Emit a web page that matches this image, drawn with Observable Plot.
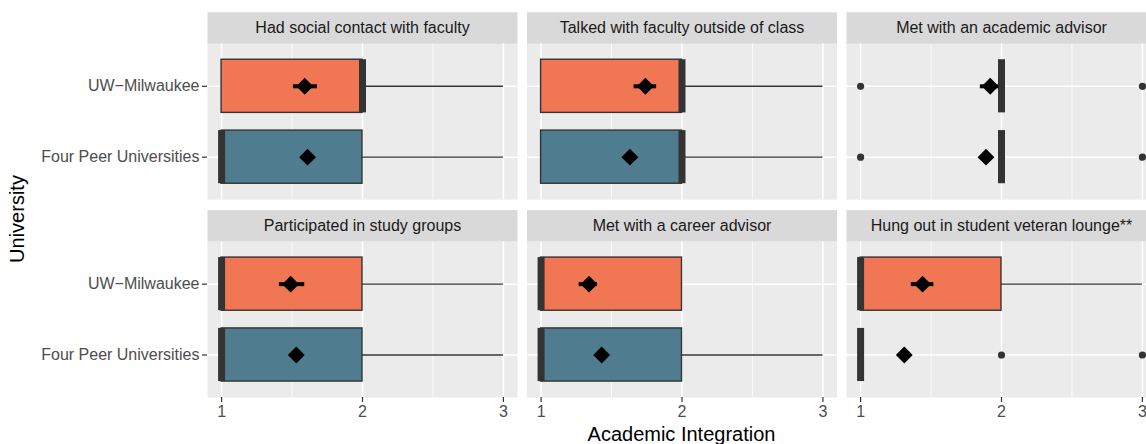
<!DOCTYPE html>
<html><head><meta charset="utf-8">
<script src="https://cdn.jsdelivr.net/npm/d3@7"></script>
<script src="https://cdn.jsdelivr.net/npm/@observablehq/plot@0.6"></script>
<style>
html,body{margin:0;padding:0;background:#fff;overflow:hidden}
#wrap{position:relative;width:1146px;height:444px;overflow:hidden;background:#fff;font-family:"Liberation Sans",Arial,Helvetica,sans-serif}
#chart{position:absolute;left:0;top:0;width:1161px}
#chart svg{max-width:none !important}
.title{position:absolute;font-size:20px;line-height:20px;color:#000;white-space:nowrap;text-align:center}
</style></head><body>
<div id="wrap"><div id="chart"></div>
<div class="title" id="xt" style="left:481.5px;top:424px;width:400px">Academic Integration</div>
<div class="title" id="yt" style="left:-133px;top:209px;width:300px;transform:rotate(-90deg)">University</div>
</div>
<script>
// ---- data ----
const panels = [
  "Had social contact with faculty",
  "Talked with faculty outside of class",
  "Met with an academic advisor",
  "Participated in study groups",
  "Met with a career advisor",
  "Hung out in student veteran lounge**"
];
const universities = ["UW\u2212Milwaukee", "Four Peer Universities"];
const fills = ["#f17653", "#4f7d8f"];
const xTicks = [1, 2, 3];
const xMinor = [1.5, 2.5];

// UW-Milwaukee
const uwLow    = [1, 1, 2, 1, 1, 1];
const uwQ1     = [1, 1, 2, 1, 1, 1];
const uwMedian = [2, 2, 2, 1, 1, 1];
const uwQ3     = [2, 2, 2, 2, 2, 2];
const uwHigh   = [3, 3, 2, 3, 2, 3];
const uwMean   = [1.59, 1.74, 1.92, 1.49, 1.34, 1.44];
const uwCiLow  = [1.51, 1.66, 1.85, 1.41, 1.27, 1.36];
const uwCiHigh = [1.68, 1.82, 1.98, 1.59, 1.40, 1.52];
const uwOutliers = [[], [], [1, 3], [], [], []];

// Four Peer Universities
const fpLow    = [1, 1, 2, 1, 1, 1];
const fpQ1     = [1, 1, 2, 1, 1, 1];
const fpMedian = [1, 2, 2, 1, 1, 1];
const fpQ3     = [2, 2, 2, 2, 2, 1];
const fpHigh   = [3, 3, 2, 3, 3, 1];
const fpMean   = [1.61, 1.63, 1.89, 1.53, 1.43, 1.31];
const fpCiLow  = [1.58, 1.60, 1.86, 1.50, 1.40, 1.29];
const fpCiHigh = [1.64, 1.66, 1.92, 1.56, 1.46, 1.33];
const fpOutliers = [[], [], [1, 3], [], [], [2, 3]];

// ---- build tables ----
const series = [
  {name: universities[0], low: uwLow, q1: uwQ1, med: uwMedian, q3: uwQ3, high: uwHigh, mean: uwMean, lo: uwCiLow, hi: uwCiHigh, out: uwOutliers},
  {name: universities[1], low: fpLow, q1: fpQ1, med: fpMedian, q3: fpQ3, high: fpHigh, mean: fpMean, lo: fpCiLow, hi: fpCiHigh, out: fpOutliers}
];
const rows = [], outliers = [];
panels.forEach((p, i) => series.forEach(s => {
  const base = {panel: p, col: i % 3, row: Math.floor(i / 3), university: s.name};
  rows.push({...base, low: s.low[i], q1: s.q1[i], med: s.med[i], q3: s.q3[i], high: s.high[i], mean: s.mean[i], lo: s.lo[i], hi: s.hi[i]});
  s.out[i].forEach(v => outliers.push({...base, value: v}));
}));
const strips = panels.map((p, i) => ({panel: p, col: i % 3, row: Math.floor(i / 3)}));

// ---- layout ----
const W = 1161, H = 444, mL = 207, mR = 5, mT = 43.3, mB = 47;
const fyPad = 42 / 198;
const panelH = (H - mT - mB) * (1 - fyPad) / (2 - fyPad);
const stripH = 31.5;
const dark = "#333333";

const chart = Plot.plot({
  width: W, height: H,
  marginLeft: mL, marginRight: mR, marginTop: mT, marginBottom: mB,
  style: {fontFamily: "'Liberation Sans', Arial, Helvetica, sans-serif", background: "transparent", overflow: "visible", maxWidth: "none"},
  fx: {axis: null, domain: [0, 1, 2], paddingInner: 19 / 639, paddingOuter: 0, round: false},
  fy: {axis: null, domain: [0, 1], paddingInner: fyPad, paddingOuter: 0, round: false},
  x: {domain: [0.9, 3.1], round: false},
  y: {domain: universities, paddingInner: 0.25, paddingOuter: 0.225, round: false, align: 0.5},
  color: {domain: universities, range: fills},
  marks: [
    Plot.frame({fill: "#ebebeb", stroke: "none"}),
    Plot.frame({fill: "#d9d9d9", stroke: "none", insetTop: -stripH, insetBottom: panelH}),
    Plot.text(strips, {fx: "col", fy: "row", text: "panel", frameAnchor: "top", lineAnchor: "middle", dy: -stripH / 2, fontSize: 16, fill: "#1a1a1a"}),
    Plot.gridX(xMinor, {stroke: "white", strokeOpacity: 1, strokeWidth: 0.75}),
    Plot.gridX(xTicks, {stroke: "white", strokeOpacity: 1, strokeWidth: 1.5}),
    Plot.gridY({stroke: "white", strokeOpacity: 1, strokeWidth: 1.5}),
    Plot.ruleY(rows, {fx: "col", fy: "row", y: "university", x1: "q3", x2: "high", stroke: dark, strokeWidth: 1.4}),
    Plot.ruleY(rows, {fx: "col", fy: "row", y: "university", x1: "low", x2: "q1", stroke: dark, strokeWidth: 1.4}),
    Plot.barX(rows, {fx: "col", fy: "row", y: "university", x1: "q1", x2: "q3", fill: "university", stroke: dark, strokeWidth: 1.4}),
    Plot.tickX(rows, {fx: "col", fy: "row", y: "university", x: "med", stroke: dark, strokeWidth: 7}),
    Plot.dot(outliers, {fx: "col", fy: "row", y: "university", x: "value", r: 3.6, fill: dark, stroke: "none"}),
    Plot.ruleY(rows, {fx: "col", fy: "row", y: "university", x1: "lo", x2: "hi", stroke: "black", strokeWidth: 4}),
    Plot.dot(rows, {fx: "col", fy: "row", y: "university", x: "mean", symbol: "diamond2", r: 7.6, fill: "black", stroke: "none"}),
    Plot.axisX({ticks: xTicks, tickFormat: d => String(d), tickSize: 5, tickPadding: 3, fontSize: 16, stroke: dark, fill: "#4d4d4d", strokeWidth: 1.2, label: null}),
    Plot.axisY({tickSize: 5, tickPadding: 3, fontSize: 16, stroke: dark, fill: "#4d4d4d", strokeWidth: 1.2, label: null})
  ]
});
document.getElementById("chart").appendChild(chart);
</script>
</body></html>
